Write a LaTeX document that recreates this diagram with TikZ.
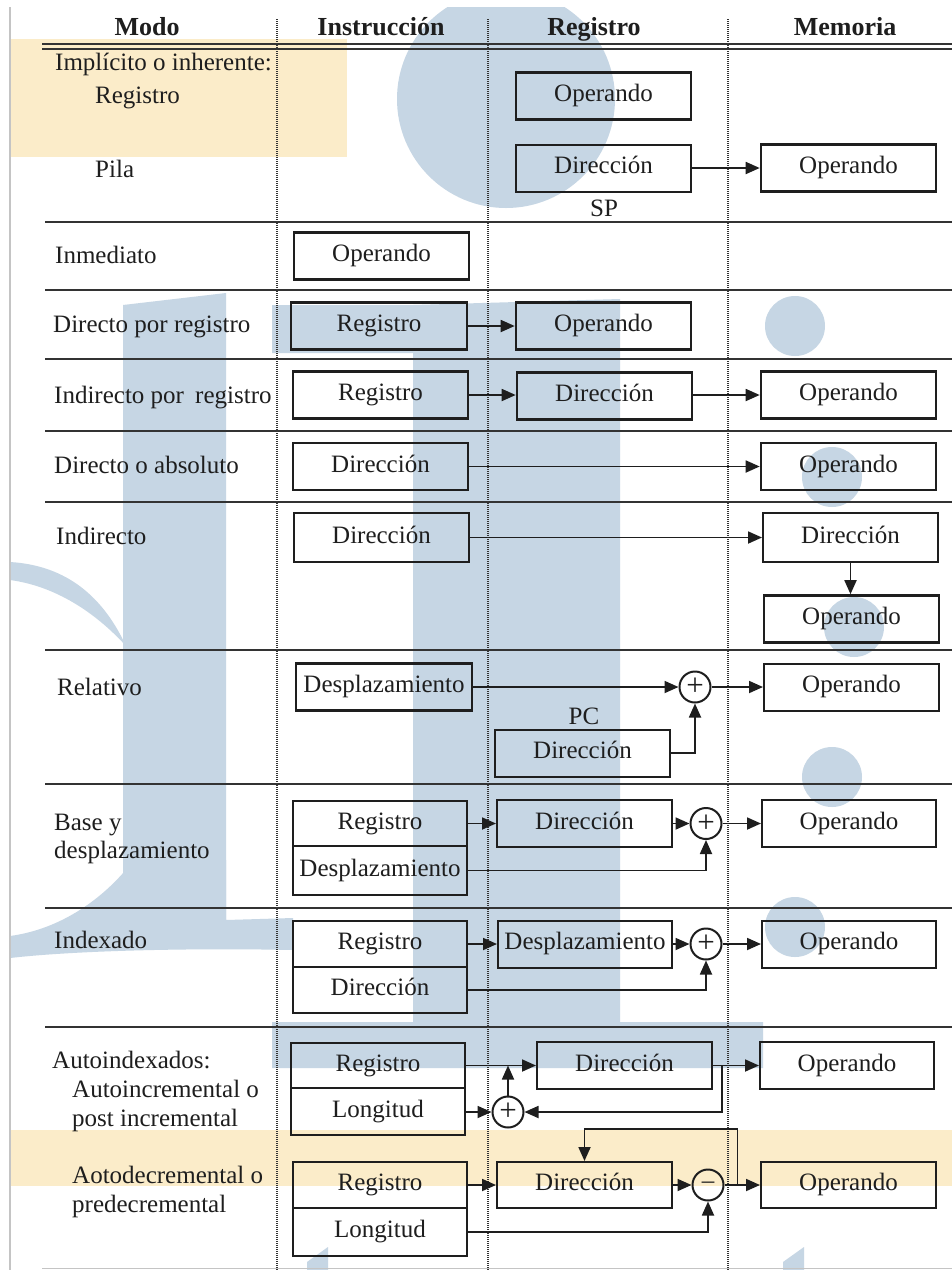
\documentclass[tikz,border=0pt]{standalone}
\usepackage{fontspec}
\setmainfont{Liberation Serif}
\usetikzlibrary{arrows.meta,calc}
\definecolor{ink}{HTML}{1E1E1E}
\definecolor{rulecol}{HTML}{333333}
\definecolor{wmblue}{HTML}{C6D6E4}
\definecolor{wmyellow}{HTML}{FBECC9}
\definecolor{edgegray}{HTML}{C4C4C4}

\begin{document}
\begin{tikzpicture}[x=1pt,y=-1pt,
  every node/.style={text=ink, font=\fontsize{25}{29}\selectfont},
  cell/.style={draw=ink, line width=2pt, minimum width=175pt, minimum height=47pt,
               inner sep=0pt, text height=17pt, text depth=5.5pt},
  heavy/.style={cell, line width=2.6pt},
  lbl/.style={anchor=base west, inner sep=0pt},
  head/.style={anchor=base, inner sep=0pt, font=\fontsize{26}{30}\selectfont\bfseries},
  adder/.style={circle, draw=ink, line width=2pt, minimum size=31pt, inner sep=0pt,
                font=\fontsize{31}{31}\selectfont},
  feed/.style={draw=ink, line width=1.8pt, -{Triangle[length=14pt,width=12pt]}},
  sep/.style={draw=rulecol, line width=2pt},
  colrule/.style={draw=rulecol, line width=1.2pt, dash pattern=on 1pt off 1pt},
]
\useasboundingbox (0,0) rectangle (952,1270);
\fill[white] (0,0) rectangle (952,1270);

% ---- background watermark and highlight bands
\begin{scope}
  \clip (10,7) rectangle (952,1270);
  \fill[wmblue] (506,99) circle[radius=109pt];
  % left letter
  \fill[wmblue] (123,305) -- (226,293) -- (226,922) -- (123,922) -- cycle;
  \fill[wmblue] (10,562) .. controls (60,565) and (100,590) .. (126,646)
                .. controls (95,612) and (55,586) .. (10,580) -- cycle;
  \fill[wmblue] (124,872) .. controls (95,905) and (55,930) .. (10,936) -- (10,958)
                .. controls (80,950) and (200,948) .. (293,950) -- (293,918)
                -- (226,920) -- (226,860) -- (124,860) -- cycle;
  % right letter
  \fill[wmblue] (272,305) -- (413,305) -- (620,299) -- (620,1022) -- (763,1022)
                -- (763,1068) -- (272,1068) -- (272,1022) -- (413,1022) -- (413,353)
                -- (272,353) -- cycle;
  % dots
  \fill[wmblue] (795,326) circle[radius=30pt];
  \fill[wmblue] (832,477) circle[radius=30pt];
  \fill[wmblue] (854,627) circle[radius=30pt];
  \fill[wmblue] (832,777) circle[radius=30pt];
  \fill[wmblue] (795,927) circle[radius=30pt];
  \fill[wmblue] (307,1262) -- (328,1247) -- (328,1270) -- (307,1270) -- cycle;
  \fill[wmblue] (783,1262) -- (804,1247) -- (804,1270) -- (783,1270) -- cycle;
  % highlight bands
  \fill[wmyellow] (10,39) rectangle (347,157);
  \fill[wmyellow] (10,1130) rectangle (952,1186);
\end{scope}

% ---- page edge
\draw[edgegray, line width=1.5pt] (10,7) -- (10,1270);
\draw[edgegray, line width=1pt] (42,1268.5) -- (952,1268.5);

% ---- table rules
\draw[rulecol, line width=1.5pt] (42,44) -- (952,44);
\draw[rulecol, line width=1.5pt] (42,49) -- (952,49);
\foreach \yy in {222,290,359,431,502,650,784,908,1027}
  \draw[sep] (45,\yy) -- (952,\yy);
\foreach \xx in {277,488,728}
  \draw[colrule] (\xx,19) -- (\xx,1270);

% ---- headings
\node[head] (hmodo) at (147,35) {Modo};
\node[head] (hins) at (381,35) {Instrucción};
\node[head] (hreg) at (594,35) {Registro};
\node[head] (hmem) at (845,35) {Memoria};

% ---- mode names
\node[lbl] (l1) at (55,70) {Implícito o inherente:};
\node[lbl] (l1a) at (95,103) {Registro};
\node[lbl] (l1b) at (95,177) {Pila};
\node[lbl] (l2) at (55,263) {Inmediato};
\node[lbl] (l3) at (53,332) {Directo por registro};
\node[lbl] (l4) at (54,403) {Indirecto por\kern0.2em\ registro};
\node[lbl] (l5) at (54,473) {Directo o absoluto};
\node[lbl] (l6) at (56,544) {Indirecto};
\node[lbl] (l7) at (57,695) {Relativo};
\node[lbl] (l8a) at (54,830) {Base y};
\node[lbl] (l8b) at (54,858) {desplazamiento};
\node[lbl] (l9) at (54,948) {Indexado};
\node[lbl] (l10) at (52,1068) {Autoindexados:};
\node[lbl] (l10a) at (72,1097) {Autoincremental o};
\node[lbl] (l10b) at (72,1126) {post incremental};
\node[lbl] (l11a) at (72,1183) {Aotodecremental o};
\node[lbl] (l11b) at (72,1212) {predecremental};

% ---- implicit: register / stack
\node[heavy] (r1op) at (603.5,96) {Operando};
\node[cell] (r1dir) at (603.5,168) {Dirección};
\node[heavy] (r1mem) at (848.5,168) {Operando};
\node[inner sep=0pt] (sp) at (604,208) {SP};
\draw[feed] (r1dir.east) -- (r1mem.west);

% ---- immediate
\node[heavy] (r2op) at (381.5,256) {Operando};

% ---- register direct
\node[heavy, minimum width=176pt] (r3reg) at (379,326) {Registro};
\node[heavy] (r3op) at (603.5,326) {Operando};
\draw[feed] (r3reg.east) -- (r3op.west);

% ---- register indirect
\node[heavy] (r4reg) at (380.5,395) {Registro};
\node[heavy] (r4dir) at (604.5,396) {Dirección};
\node[heavy] (r4mem) at (848.5,395) {Operando};
\draw[feed] (r4reg.east) -- (r4reg.east -| r4dir.west);
\draw[feed] (r4reg.east -| r4dir.east) -- (r4reg.east -| r4mem.west);

% ---- direct / absolute
\node[heavy] (r5dir) at (380.5,466.5) {Dirección};
\node[heavy] (r5mem) at (848.5,466.5) {Operando};
\draw[feed] (r5dir.east) -- (r5mem.west);

% ---- indirect
\node[heavy, minimum height=49pt] (r6dir) at (381.5,537.5) {Dirección};
\node[cell, minimum height=49pt] (r6mem1) at (850.5,537.5) {Dirección};
\node[heavy] (r6mem2) at (851.5,619) {Operando};
\draw[feed] (r6dir.east) -- (r6mem1.west);
\draw[feed] (r6mem1.south) -- (r6mem1.south |- r6mem2.north);

% ---- relative
\node[heavy, minimum width=176pt] (r7desp) at (384,687) {Desplazamiento};
\node[adder] (sum7) at (695,687) {+};
\node[cell] (r7mem) at (851.5,687) {Operando};
\node[inner sep=0pt] (pc) at (584,716) {PC};
\node[cell] (r7pc) at (582.5,753) {Dirección};
\draw[feed] (r7desp.east) -- (sum7.west);
\draw[feed] (sum7.east) -- (r7mem.west);
\draw[feed] (r7pc.east) -| (sum7.south);

% ---- base + displacement
\node[cell, minimum width=174pt, minimum height=45pt] (r8reg) at (380,823.5) {Registro};
\node[cell, minimum width=174pt, minimum height=49pt] (r8desp) at (380,870.5) {Desplazamiento};
\node[cell] (r8dir) at (584.5,823.5) {Dirección};
\node[adder] (sum8) at (706,823.5) {+};
\node[cell, minimum width=174pt] (r8mem) at (849,823.5) {Operando};
\draw[feed] (r8reg.east) -- (r8dir.west);
\draw[feed] (r8dir.east) -- (sum8.west);
\draw[feed] (sum8.east) -- (r8mem.west);
\draw[feed] (r8desp.east) -| (sum8.south);

% ---- indexed
\node[cell, minimum width=174pt, minimum height=46pt] (r9reg) at (380,944) {Registro};
\node[cell, minimum width=174pt, minimum height=46pt] (r9dir) at (380,990) {Dirección};
\node[cell, minimum width=174pt] (r9desp) at (585,944) {Desplazamiento};
\node[adder] (sum9) at (706,944) {+};
\node[cell, minimum width=174pt] (r9mem) at (849,944) {Operando};
\draw[feed] (r9reg.east) -- (r9desp.west);
\draw[feed] (r9desp.east) -- (sum9.west);
\draw[feed] (sum9.east) -- (r9mem.west);
\draw[feed] (r9dir.east) -| (sum9.south);

% ---- auto-increment (post)
\node[cell, minimum width=174pt, minimum height=45pt] (r10reg) at (378,1065.5) {Registro};
\node[cell, minimum width=174pt, minimum height=47pt] (r10len) at (378,1111.5) {Longitud};
\node[cell] (r10dir) at (624.5,1065.5) {Dirección};
\node[adder] (sum10) at (508,1112) {+};
\node[cell, minimum width=174pt] (r10mem) at (847,1065.5) {Operando};
\coordinate (tap10) at ($(r10dir.east)+(9,0)$);
\draw[feed] (r10reg.east) -- (r10dir.west);
\draw[feed] (r10dir.east) -- (r10mem.west);
\draw[feed] (r10len.east |- sum10.west) -- (sum10.west);
\draw[feed] (sum10.north) -- (sum10.north |- r10reg.east);
\draw[feed] (tap10) |- (sum10.east);

% ---- auto-decrement (pre)
\node[cell, minimum width=174pt, minimum height=46pt] (r11reg) at (380,1185) {Registro};
\node[cell, minimum width=174pt, minimum height=48pt] (r11len) at (380,1232) {Longitud};
\node[cell, minimum height=46pt] (r11dir) at (584.5,1185) {Dirección};
\node[adder, font=\fontsize{25}{25}\selectfont] (sub11) at (708,1185) {–};
\node[cell, minimum height=46pt] (r11mem) at (848.5,1185) {Operando};
\coordinate (tap11) at ($(sub11.east)+(13,0)$);
\coordinate (fb11) at ($(tap11)+(0,-56)$);
\draw[feed] (r11reg.east) -- (r11dir.west);
\draw[feed] (r11dir.east) -- (sub11.west);
\draw[feed] (sub11.east) -- (r11mem.west);
\draw[feed] (tap11) -- (fb11) -| (r11dir.north);
\draw[feed] (r11len.east) -| (sub11.south);
\end{tikzpicture}
\end{document}
